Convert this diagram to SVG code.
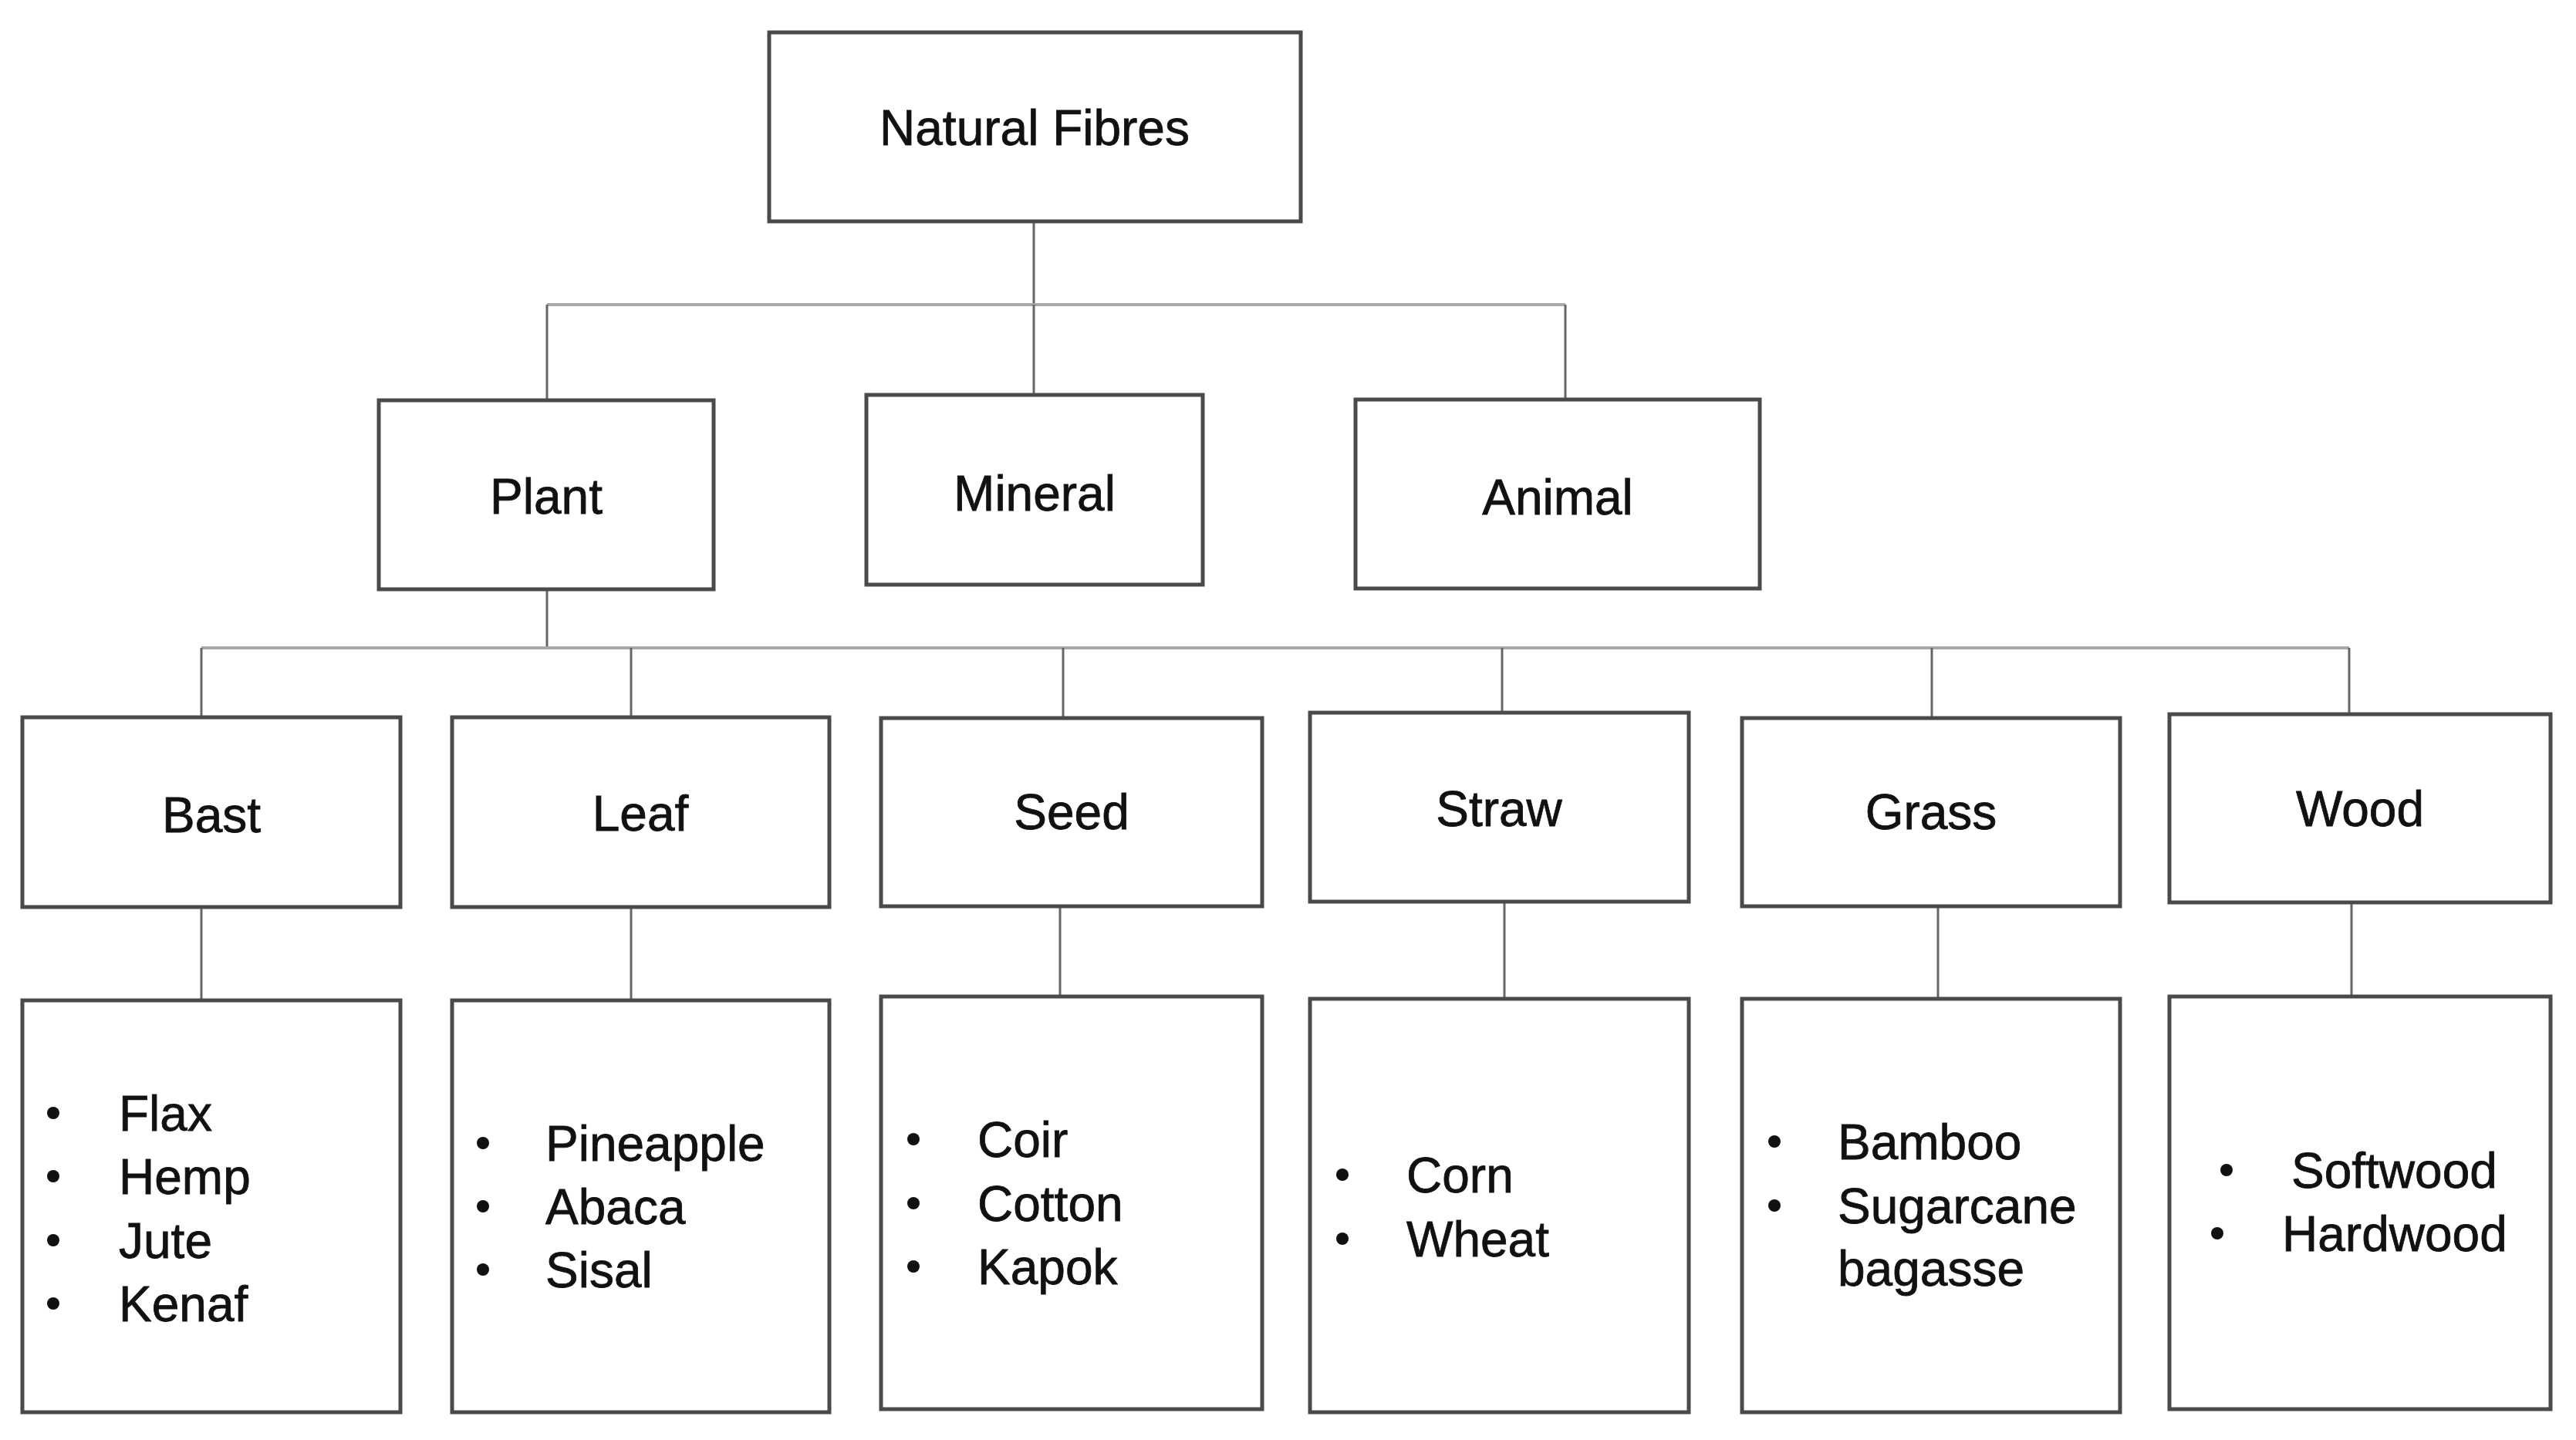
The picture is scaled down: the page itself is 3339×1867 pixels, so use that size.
<svg xmlns="http://www.w3.org/2000/svg" width="3339" height="1867" viewBox="0 0 3339 1867">
<style>
.box{fill:#fff;stroke:#4a4a4a;stroke-width:5}
.lbl{font-family:"Liberation Sans",Arial,sans-serif;font-size:64px;fill:#111;stroke:#111;stroke-width:0.8;text-anchor:middle}
.item{font-family:"Liberation Sans",Arial,sans-serif;font-size:64px;fill:#111;stroke:#111;stroke-width:0.8}
.dot{fill:#111}
.h{stroke:#a8a8a8;stroke-width:4;fill:none}
.v{stroke:#666;stroke-width:3;fill:none}
</style>
<rect width="3339" height="1867" fill="#fff"/>
<g id="connectors">
<line class="v" x1="1340" y1="287" x2="1340" y2="395"/>
<line class="h" x1="709" y1="395" x2="2029" y2="395"/>
<line class="v" x1="709" y1="395" x2="709" y2="519"/>
<line class="v" x1="1340" y1="395" x2="1340" y2="512"/>
<line class="v" x1="2029" y1="395" x2="2029" y2="518"/>
<line class="v" x1="709" y1="764" x2="709" y2="840"/>
<line class="h" x1="261" y1="840" x2="3045" y2="840"/>
<line class="v" x1="261" y1="840" x2="261" y2="930"/>
<line class="v" x1="818" y1="840" x2="818" y2="930"/>
<line class="v" x1="1378" y1="840" x2="1378" y2="931"/>
<line class="v" x1="1947" y1="840" x2="1947" y2="924"/>
<line class="v" x1="2504" y1="840" x2="2504" y2="931"/>
<line class="v" x1="3045" y1="840" x2="3045" y2="926"/>
<line class="v" x1="261" y1="1176" x2="261" y2="1297"/>
<line class="v" x1="818" y1="1176" x2="818" y2="1297"/>
<line class="v" x1="1374" y1="1175" x2="1374" y2="1292"/>
<line class="v" x1="1950" y1="1169" x2="1950" y2="1295"/>
<line class="v" x1="2512" y1="1175" x2="2512" y2="1295"/>
<line class="v" x1="3048" y1="1170" x2="3048" y2="1292"/>
</g>
<g id="natural-fibres"><rect class="box" x="997" y="42" width="689" height="245"/><text class="lbl" x="1341" y="188">Natural Fibres</text></g>
<g id="plant"><rect class="box" x="491" y="519" width="434" height="245"/><text class="lbl" x="708" y="666">Plant</text></g>
<g id="mineral"><rect class="box" x="1123" y="512" width="436" height="246"/><text class="lbl" x="1341" y="662">Mineral</text></g>
<g id="animal"><rect class="box" x="1757" y="518" width="524" height="245"/><text class="lbl" x="2019" y="667">Animal</text></g>
<g id="bast"><rect class="box" x="29" y="930" width="490" height="246"/><text class="lbl" x="274" y="1079">Bast</text></g>
<g id="leaf"><rect class="box" x="586" y="930" width="489" height="246"/><text class="lbl" x="830" y="1077">Leaf</text></g>
<g id="seed"><rect class="box" x="1142" y="931" width="494" height="244"/><text class="lbl" x="1389" y="1075">Seed</text></g>
<g id="straw"><rect class="box" x="1698" y="924" width="491" height="245"/><text class="lbl" x="1943" y="1071">Straw</text></g>
<g id="grass"><rect class="box" x="2258" y="931" width="490" height="244"/><text class="lbl" x="2503" y="1075">Grass</text></g>
<g id="wood"><rect class="box" x="2812" y="926" width="494" height="244"/><text class="lbl" x="3059" y="1071">Wood</text></g>
<g id="bast-list"><rect class="box" x="29" y="1297" width="490" height="534"/>
<circle class="dot" cx="69" cy="1443" r="8"/><text class="item" x="154" y="1466">Flax</text>
<circle class="dot" cx="69" cy="1525" r="8"/><text class="item" x="154" y="1548">Hemp</text>
<circle class="dot" cx="69" cy="1608" r="8"/><text class="item" x="154" y="1631">Jute</text>
<circle class="dot" cx="69" cy="1690" r="8"/><text class="item" x="154" y="1713">Kenaf</text></g>
<g id="leaf-list"><rect class="box" x="586" y="1297" width="489" height="534"/>
<circle class="dot" cx="626" cy="1482" r="8"/><text class="item" x="707" y="1505">Pineapple</text>
<circle class="dot" cx="626" cy="1564" r="8"/><text class="item" x="707" y="1587">Abaca</text>
<circle class="dot" cx="626" cy="1646" r="8"/><text class="item" x="707" y="1669">Sisal</text></g>
<g id="seed-list"><rect class="box" x="1142" y="1292" width="494" height="535"/>
<circle class="dot" cx="1184" cy="1477" r="8"/><text class="item" x="1267" y="1500">Coir</text>
<circle class="dot" cx="1184" cy="1560" r="8"/><text class="item" x="1267" y="1583">Cotton</text>
<circle class="dot" cx="1184" cy="1642" r="8"/><text class="item" x="1267" y="1665">Kapok</text></g>
<g id="straw-list"><rect class="box" x="1698" y="1295" width="491" height="536"/>
<circle class="dot" cx="1740" cy="1523" r="8"/><text class="item" x="1823" y="1546">Corn</text>
<circle class="dot" cx="1740" cy="1606" r="8"/><text class="item" x="1823" y="1629">Wheat</text></g>
<g id="grass-list"><rect class="box" x="2258" y="1295" width="490" height="536"/>
<circle class="dot" cx="2300" cy="1480" r="8"/><text class="item" x="2382" y="1503">Bamboo</text>
<circle class="dot" cx="2300" cy="1563" r="8"/><text class="item" x="2382" y="1586">Sugarcane</text>
<text class="item" x="2382" y="1667">bagasse</text></g>
<g id="wood-list"><rect class="box" x="2812" y="1292" width="494" height="535"/>
<circle class="dot" cx="2886" cy="1517" r="8"/><text class="item" x="2970" y="1540">Softwood</text>
<circle class="dot" cx="2874" cy="1599" r="8"/><text class="item" x="2958" y="1622">Hardwood</text></g>
</svg>
